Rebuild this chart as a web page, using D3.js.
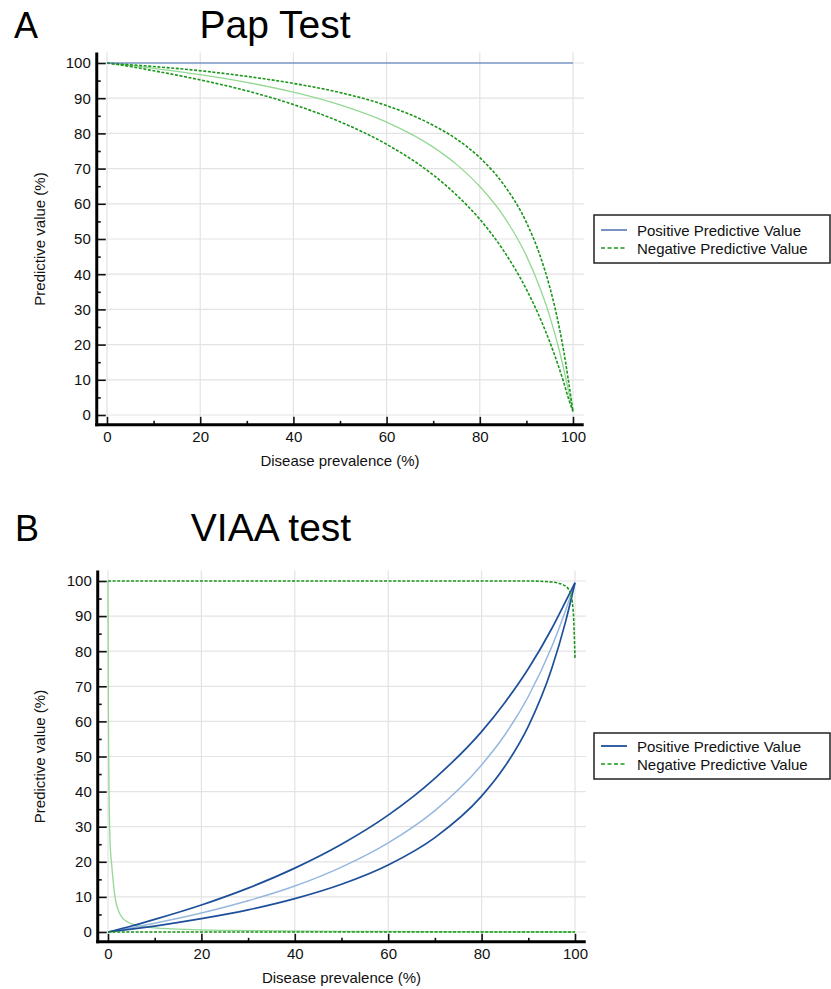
<!DOCTYPE html>
<html>
<head>
<meta charset="utf-8">
<script src="https://cdn.jsdelivr.net/npm/d3@7"></script>
<style>
body { margin: 0; background: #fff; }
text { font-family: "Liberation Sans", Arial, sans-serif; }
</style>
</head>
<body>
<div id="chart"></div>
<script>
// ---- data ----
// panel A (Pap test)
const prevA = [0, 5, 10, 20, 30, 40, 50, 60, 70, 75, 80, 85, 90, 93, 95, 97, 98, 99, 100];
const npvA = [100, 99.3, 98.5, 96.7, 94.5, 91.7, 88.1, 83.2, 76.1, 71.2, 64.9, 56.7, 45.2, 35.8, 28.1, 18.6, 13.1, 7.0, 1];
const npvALow = [100, 99.0, 97.8, 95.2, 92.1, 88.2, 83.3, 76.9, 68.2, 62.5, 55.6, 46.9, 35.7, 27.3, 20.8, 13.4, 9.3, 4.8, 1];
const npvAHigh = [100, 99.5, 99.0, 97.8, 96.2, 94.2, 91.6, 87.9, 82.3, 78.4, 73.1, 65.7, 54.7, 45.0, 36.4, 25.2, 18.2, 9.9, 1];
const ppvAPrev = [0, 100];
const ppvA = [100, 100];

// panel B (VIAA test)
const prevB = [0, 5, 10, 20, 30, 40, 50, 60, 70, 80, 85, 90, 95, 98, 100];
const ppvB = [0, 1.2, 2.5, 5.4, 8.9, 13.1, 18.5, 25.4, 34.6, 47.6, 56.2, 67.1, 81.2, 91.7, 99.5];
const ppvBLow = [0, 0.8, 1.7, 3.8, 6.3, 9.5, 13.6, 19.1, 26.9, 38.7, 47.2, 58.6, 75.0, 88.5, 99.5];
const ppvBHigh = [0, 1.7, 3.6, 7.7, 12.5, 18.2, 25.0, 33.3, 43.8, 57.1, 65.4, 75.0, 86.4, 94.2, 99.5];
const npvBPrev = [0, 0.1, 0.2, 0.43, 0.8, 1.5, 2.6, 4, 7.5, 10, 18, 30, 50, 70, 100];
const npvB = [100, 60, 43, 26, 19, 10, 5, 3, 1.5, 1.2, 0.7, 0.4, 0.2, 0.1, 0];
const npvBHighPrev = [0, 90, 95, 97.5, 98.9, 99.6, 100];
const npvBHigh = [100, 100, 99.7, 98.9, 97, 91.7, 78];
const npvBLowPrev = [0, 100];
const npvBLow = [0, 0];

// ticks
const xTicks = [0, 20, 40, 60, 80, 100];
const xMinor = [10, 30, 50, 70, 90];
const yTicks = [0, 10, 20, 30, 40, 50, 60, 70, 80, 90, 100];
const yMinor = [5, 15, 25, 35, 45, 55, 65, 75, 85, 95];
const legendLabels = ["Positive Predictive Value", "Negative Predictive Value"];

const W = 831, H = 989;
const svg = d3.select("#chart").append("svg")
    .attr("width", W)
    .attr("height", H);

svg.append("rect").attr("width", W).attr("height", H).attr("fill", "#fff");

const zip = (xs, ys) => xs.map((x, i) => [x, ys[i]]);

function drawPanel(cfg) {
    const x = d3.scaleLinear().domain([0, 100]).range([cfg.x0, cfg.x1]);
    const y = d3.scaleLinear().domain([0, 100]).range([cfg.y0, cfg.y1]);
    const xExt = [-2.2, 102.3], yExt = [-2.8, 103];
    const g = svg.append("g");

    // letter + title
    g.append("text").attr("x", cfg.letterX).attr("y", cfg.titleY)
        .attr("font-size", 36).text(cfg.letter);
    g.append("text").attr("x", cfg.titleX).attr("y", cfg.titleY)
        .attr("text-anchor", "middle").attr("font-size", 39).text(cfg.title);

    // grid
    g.append("g").selectAll("line").data(yTicks).join("line")
        .attr("x1", x(xExt[0])).attr("x2", x(xExt[1]))
        .attr("y1", d => y(d)).attr("y2", d => y(d))
        .attr("stroke", "#e3e3e3").attr("stroke-width", 1.2);
    g.append("g").selectAll("line").data(xTicks).join("line")
        .attr("x1", d => x(d)).attr("x2", d => x(d))
        .attr("y1", y(yExt[0])).attr("y2", y(yExt[1]))
        .attr("stroke", "#e3e3e3").attr("stroke-width", 1.2);

    // curves
    const line = d3.line().x(d => x(d[0])).y(d => y(d[1])).curve(d3.curveMonotoneX);
    cfg.series.forEach(s => {
        g.append("path").datum(zip(s.xs, s.ys))
            .attr("d", line)
            .attr("fill", "none")
            .attr("stroke", s.color)
            .attr("stroke-width", s.width)
            .attr("stroke-dasharray", s.dash || null);
    });

    // axes
    const axisX = x(xExt[0]), axisY = y(yExt[0]);
    const yAxis = g.append("g").attr("transform", `translate(${axisX},0)`)
        .call(d3.axisLeft(y).tickValues(yTicks).tickSize(-9).tickPadding(6));
    yAxis.append("g").call(d3.axisLeft(y).tickValues(yMinor).tickSize(-4).tickFormat(""));
    const xAxis = g.append("g").attr("transform", `translate(0,${axisY})`)
        .call(d3.axisBottom(x).tickValues(xTicks).tickSize(-8).tickPadding(7));
    xAxis.append("g").call(d3.axisBottom(x).tickValues(xMinor).tickSize(-4).tickFormat(""));
    g.selectAll(".domain").remove();
    g.selectAll(".tick line").attr("stroke", "#111").attr("stroke-width", 1.6);
    g.selectAll(".tick text").attr("font-size", 15).attr("fill", "#111")
        .attr("font-family", "Liberation Sans, Arial, sans-serif");

    g.append("line").attr("x1", axisX).attr("x2", axisX)
        .attr("y1", y(yExt[1])).attr("y2", axisY + 1.5)
        .attr("stroke", "#000").attr("stroke-width", 3);
    g.append("line").attr("x1", axisX - 1.5).attr("x2", x(xExt[1]))
        .attr("y1", axisY).attr("y2", axisY)
        .attr("stroke", "#000").attr("stroke-width", 3);

    // axis titles
    g.append("text").attr("x", x(50)).attr("y", axisY + 41)
        .attr("text-anchor", "middle").attr("font-size", 15).attr("fill", "#111")
        .text("Disease prevalence (%)");
    g.append("text")
        .attr("transform", `translate(45,${y(50)}) rotate(-90)`)
        .attr("text-anchor", "middle").attr("font-size", 15).attr("fill", "#111")
        .text("Predictive value (%)");

    // legend
    const lg = g.append("g").attr("transform", `translate(594,${cfg.legendY})`);
    lg.append("rect").attr("width", 236).attr("height", cfg.legendH)
        .attr("fill", "#fff").attr("stroke", "#222").attr("stroke-width", 1.5);
    cfg.legend.forEach((l, i) => {
        const ry = cfg.legendRow0 + i * 18;
        lg.append("line").attr("x1", 7).attr("x2", 33).attr("y1", ry).attr("y2", ry)
            .attr("stroke", l.color).attr("stroke-width", l.width)
            .attr("stroke-dasharray", l.dash || null);
        lg.append("text").attr("x", 43).attr("y", ry + 5.5)
            .attr("font-size", 15).attr("fill", "#111").text(legendLabels[i]);
    });
}

const dark = "#1a961a", light = "#93d893";
const dash = "3,1.6";

drawPanel({
    letter: "A", letterX: 14, title: "Pap Test", titleX: 275, titleY: 38,
    x0: 107, x1: 573, y0: 415, y1: 63,
    legendY: 215, legendH: 48, legendRow0: 15,
    series: [
        { xs: prevA, ys: npvA, color: light, width: 1.3 },
        { xs: prevA, ys: npvALow, color: dark, width: 1.6, dash: dash },
        { xs: prevA, ys: npvAHigh, color: dark, width: 1.6, dash: dash },
        { xs: ppvAPrev, ys: ppvA, color: "#4770b0", width: 1.2 }
    ],
    legend: [
        { color: "#3f62aa", width: 1.4 },
        { color: dark, width: 1.6, dash: "4,2.5" }
    ]
});

drawPanel({
    letter: "B", letterX: 15, title: "VIAA test", titleX: 271, titleY: 541,
    x0: 108, x1: 575, y0: 932, y1: 581,
    legendY: 733, legendH: 46, legendRow0: 13,
    series: [
        { xs: npvBPrev, ys: npvB, color: light, width: 1.3 },
        { xs: prevB, ys: ppvB, color: "#97b8de", width: 1.5 },
        { xs: prevB, ys: ppvBLow, color: "#1d4f9a", width: 1.7 },
        { xs: prevB, ys: ppvBHigh, color: "#1d4f9a", width: 1.7 },
        { xs: npvBHighPrev, ys: npvBHigh, color: dark, width: 1.6, dash: dash },
        { xs: npvBLowPrev, ys: npvBLow, color: dark, width: 1.6, dash: dash }
    ],
    legend: [
        { color: "#1d4f9a", width: 1.8 },
        { color: dark, width: 1.6, dash: "4,2.5" }
    ]
});
</script>
</body>
</html>
